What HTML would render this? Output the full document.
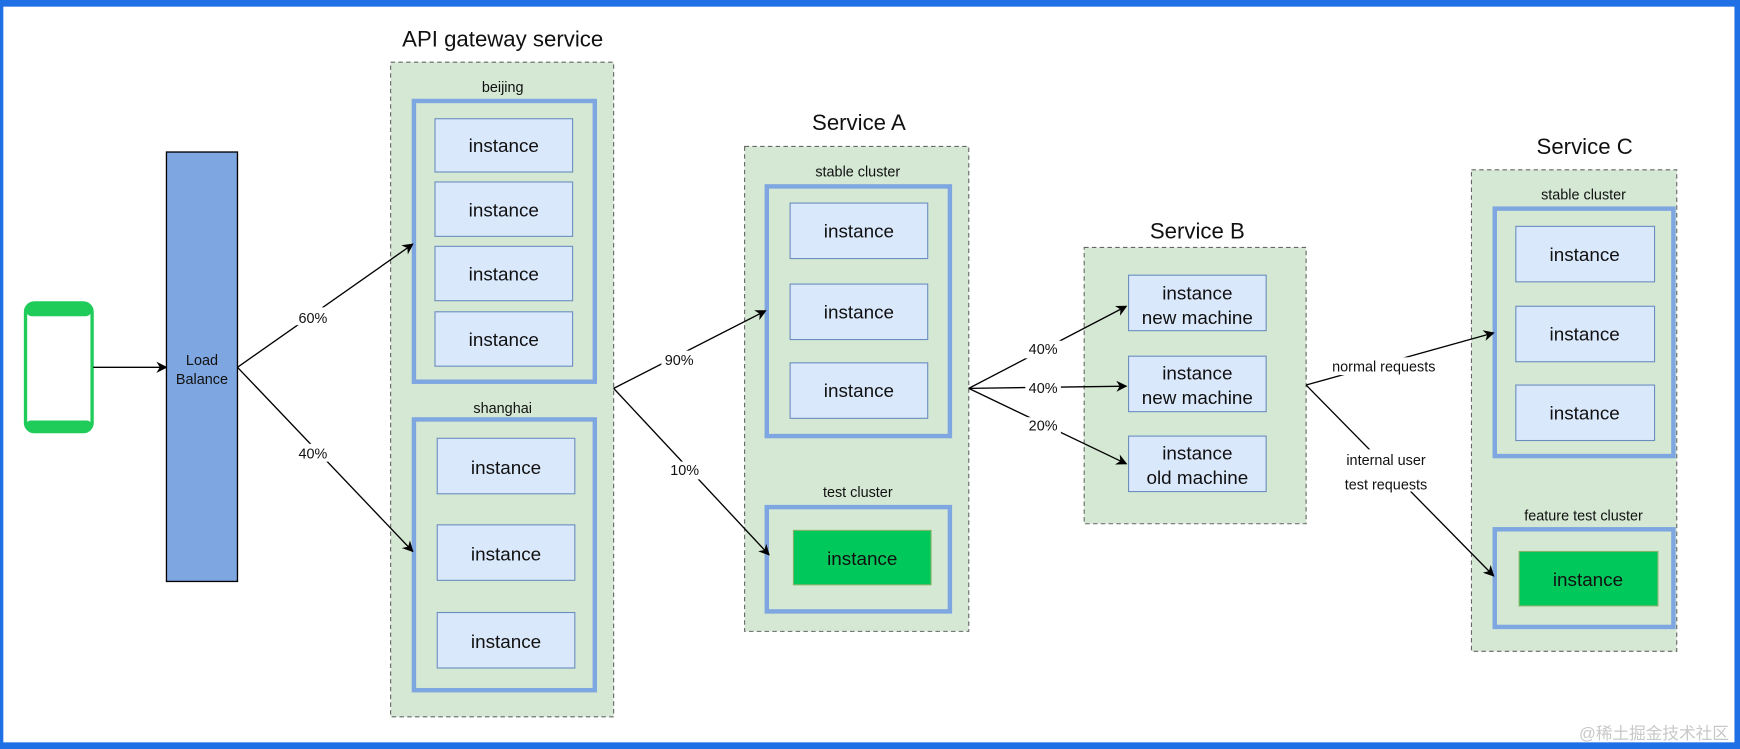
<!DOCTYPE html>
<html><head><meta charset="utf-8"><style>
html,body{margin:0;padding:0;background:#fff;}
svg{display:block;}
text{font-family:"Liberation Sans","Noto Sans CJK SC",sans-serif;fill:#111;}
</style></head><body>
<svg width="1740" height="749" viewBox="0 0 1568 675" preserveAspectRatio="none">
<defs>
<marker id="a" markerWidth="10" markerHeight="10" refX="9" refY="5" orient="auto" markerUnits="userSpaceOnUse">
<path d="M0,0 L10,5 L0,10 L3,5 Z" fill="#000"/></marker>
</defs>
<rect x="0" y="0" width="1568" height="675" fill="#1f6fe5"/>
<rect x="3" y="6" width="1560" height="663" fill="#fff"/>

<!-- phone -->
<rect x="23" y="273" width="60" height="116" rx="8" fill="#fff" stroke="#1fcc5a" stroke-width="3"/>
<rect x="23" y="273" width="60" height="12" rx="6" fill="#1fcc5a"/>
<rect x="23" y="379" width="60" height="10" rx="5" fill="#1fcc5a"/>
<line x1="84" y1="331" x2="150" y2="331" stroke="#000" stroke-width="1.3" marker-end="url(#a)"/>

<!-- LB -->
<rect x="150" y="137" width="64" height="387" fill="#7ea6e0" stroke="#000" stroke-width="1.2"/>
<text x="182" y="329" font-size="13" text-anchor="middle">Load</text>
<text x="182" y="346" font-size="13" text-anchor="middle">Balance</text>

<!-- titles -->
<g font-size="20" text-anchor="middle">
<text x="453" y="42">API gateway service</text>
<text x="774" y="117">Service A</text>
<text x="1079" y="215">Service B</text>
<text x="1428" y="139">Service C</text>
</g>

<!-- containers -->
<g fill="#d5e8d4" stroke="#666" stroke-dasharray="4 3" stroke-width="1">
<rect x="352" y="56" width="201" height="590"/>
<rect x="671" y="132" width="202" height="437"/>
<rect x="977" y="223" width="200" height="249"/>
<rect x="1326" y="153" width="185" height="434"/>
</g>
<g font-size="13" text-anchor="middle">
<text x="453" y="83">beijing</text>
<text x="453" y="372">shanghai</text>
<text x="773" y="159">stable cluster</text>
<text x="773" y="448">test cluster</text>
<text x="1427" y="180">stable cluster</text>
<text x="1427" y="469">feature test cluster</text>
</g>
<g fill="none" stroke="#7ea6e0" stroke-width="4">
<rect x="373" y="91" width="163" height="253"/>
<rect x="373" y="378" width="163" height="244"/>
<rect x="691" y="168" width="165" height="225"/>
<rect x="691" y="457" width="165" height="94"/>
<rect x="1347" y="188" width="161" height="223"/>
<rect x="1347" y="477" width="161" height="88"/>
</g>
<g fill="#dae8fc" stroke="#6c8ebf" stroke-width="1">
<rect x="392" y="107" width="124" height="48"/>
<rect x="392" y="164" width="124" height="49"/>
<rect x="392" y="222" width="124" height="49"/>
<rect x="392" y="281" width="124" height="49"/>
<rect x="394" y="395" width="124" height="50"/>
<rect x="394" y="473" width="124" height="50"/>
<rect x="394" y="552" width="124" height="50"/>
<rect x="712" y="183" width="124" height="50"/>
<rect x="712" y="256" width="124" height="50"/>
<rect x="712" y="327" width="124" height="50"/>
<rect x="1017" y="248" width="124" height="50"/>
<rect x="1017" y="321" width="124" height="50"/>
<rect x="1017" y="393" width="124" height="50"/>
<rect x="1366" y="204" width="125" height="50"/>
<rect x="1366" y="276" width="125" height="50"/>
<rect x="1366" y="347" width="125" height="50"/>
</g>
<g fill="#00c85a" stroke="#82b366" stroke-width="1">
<rect x="715" y="478" width="124" height="49"/>
<rect x="1369" y="497" width="125" height="49"/>
</g>
<g font-size="17" text-anchor="middle">
<text x="454" y="137">instance</text>
<text x="454" y="195">instance</text>
<text x="454" y="253">instance</text>
<text x="454" y="312">instance</text>
<text x="456" y="427">instance</text>
<text x="456" y="505">instance</text>
<text x="456" y="584">instance</text>
<text x="774" y="214">instance</text>
<text x="774" y="287">instance</text>
<text x="774" y="358">instance</text>
<text x="777" y="509">instance</text>
<text x="1079" y="270">instance</text><text x="1079" y="292">new machine</text>
<text x="1079" y="342">instance</text><text x="1079" y="364">new machine</text>
<text x="1079" y="414">instance</text><text x="1079" y="436">old machine</text>
<text x="1428" y="235">instance</text>
<text x="1428" y="307">instance</text>
<text x="1428" y="378">instance</text>
<text x="1431" y="528">instance</text>
</g>

<!-- connectors on top -->
<g stroke="#000" stroke-width="1.2" fill="none">
<line x1="214" y1="331" x2="372" y2="220" marker-end="url(#a)"/>
<line x1="214" y1="331" x2="372" y2="497" marker-end="url(#a)"/>
<line x1="553" y1="350" x2="690" y2="280" marker-end="url(#a)"/>
<line x1="553" y1="350" x2="693" y2="500" marker-end="url(#a)"/>
<line x1="873" y1="350" x2="1015" y2="276" marker-end="url(#a)"/>
<line x1="873" y1="350" x2="1015" y2="348" marker-end="url(#a)"/>
<line x1="873" y1="350" x2="1015" y2="418" marker-end="url(#a)"/>
<line x1="1177" y1="347" x2="1346" y2="300" marker-end="url(#a)"/>
<line x1="1177" y1="347" x2="1346" y2="519" marker-end="url(#a)"/>
</g>
<g font-size="13" text-anchor="middle">
<rect x="266" y="277" width="32" height="16" fill="#fff"/><text x="282" y="291">60%</text>
<rect x="266" y="400" width="32" height="16" fill="#fff"/><text x="282" y="413">40%</text>
<rect x="596" y="316" width="32" height="16" fill="#fff"/><text x="612" y="329">90%</text>
<rect x="601" y="416" width="32" height="16" fill="#fff"/><text x="617" y="428">10%</text>
<rect x="924" y="307" width="32" height="16" fill="#fff"/><text x="940" y="319">40%</text>
<rect x="924" y="342" width="32" height="16" fill="#fff"/><text x="940" y="354">40%</text>
<rect x="924" y="376" width="32" height="16" fill="#fff"/><text x="940" y="388">20%</text>
<rect x="1192" y="322" width="110" height="16" fill="#fff"/><text x="1247" y="335">normal requests</text>
<rect x="1205" y="405" width="90" height="38" fill="#fff"/><text x="1249" y="419">internal user</text><text x="1249" y="441">test requests</text>
</g>
<text x="1558" y="666" font-size="15" text-anchor="end" style="fill:#c8c8c8">@稀土掘金技术社区</text>
</svg>
</body></html>
